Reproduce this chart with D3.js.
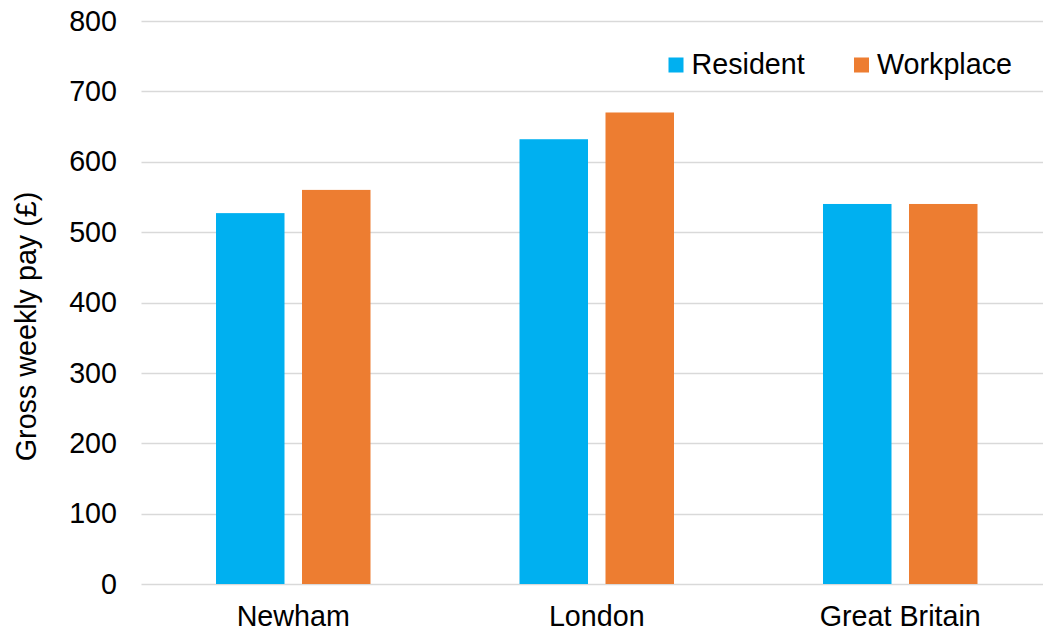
<!DOCTYPE html>
<html>
<head>
<meta charset="utf-8">
<script src="https://cdn.jsdelivr.net/npm/d3@7"></script>
<style>
  html, body { margin: 0; padding: 0; background: #fff; }
  svg { display: block; }
  text { font-family: "Liberation Sans", Arial, sans-serif; fill: #000; }
</style>
</head>
<body>
<svg id="chart" width="1043" height="632"></svg>
<script>
const categories = ["Newham", "London", "Great Britain"];
const seriesNames = ["Resident", "Workplace"];
const residentValues = [527, 632, 540];
const workplaceValues = [560, 670, 540];
const yTicks = [0, 100, 200, 300, 400, 500, 600, 700, 800];
const yTitle = "Gross weekly pay (£)";
const colors = ["#00B0F0", "#ED7D31"];

const svg = d3.select("#chart");
const fontSize = 28.7;

const plotLeft = 141.5, plotRight = 1052, plotTop = 21, plotBottom = 584;

const y = d3.scaleLinear().domain([0, 800]).range([plotBottom, plotTop]);
const x0 = d3.scaleBand().domain(categories).range([plotLeft, plotRight]).padding(0);
const groupWidth = 154.5;
const x1 = d3.scaleBand().domain(seriesNames)
  .range([-groupWidth / 2, groupWidth / 2])
  .paddingInner(0.2035).paddingOuter(0);

// gridlines
svg.append("g").selectAll("line").data(yTicks).join("line")
  .attr("x1", plotLeft).attr("x2", plotRight)
  .attr("y1", d => Math.round(y(d)) + 0.5).attr("y2", d => Math.round(y(d)) + 0.5)
  .attr("stroke", "#d9d9d9").attr("stroke-width", 1.5);

// y axis labels
const yAxis = d3.axisLeft(y).tickValues(yTicks).tickSize(0).tickPadding(0);
const yg = svg.append("g").attr("transform", `translate(117,0)`).call(yAxis);
yg.select(".domain").remove();
yg.selectAll("text").attr("font-size", fontSize).attr("font-family", "Liberation Sans, Arial, sans-serif").attr("fill", "#000");

// bars
const data = categories.map((c, i) => ({ cat: c, values: [residentValues[i], workplaceValues[i]] }));
const groups = svg.append("g").selectAll("g").data(data).join("g")
  .attr("transform", d => `translate(${x0(d.cat) + x0.bandwidth() / 2},0)`);
groups.selectAll("rect").data(d => d.values.map((v, j) => ({ s: seriesNames[j], v, j })))
  .join("rect")
  .attr("x", d => x1(d.s))
  .attr("width", x1.bandwidth())
  .attr("y", d => y(d.v))
  .attr("height", d => y(0) - y(d.v))
  .attr("fill", d => colors[d.j]);

// x axis labels
const xAxis = d3.axisBottom(x0).tickSize(0).tickPadding(0);
const xg = svg.append("g").attr("transform", `translate(0,${plotBottom})`).call(xAxis);
xg.select(".domain").remove();
xg.selectAll("text").attr("font-size", fontSize).attr("font-family", "Liberation Sans, Arial, sans-serif")
  .attr("fill", "#000").attr("dy", null).attr("y", 41.5);

// y title
svg.append("text")
  .attr("transform", "translate(35.5,326.5) rotate(-90)")
  .attr("text-anchor", "middle")
  .attr("font-size", fontSize)
  .text(yTitle);

// legend
const legendX = [668.5, 854];
const lg = svg.append("g").selectAll("g").data(seriesNames).join("g")
  .attr("transform", (d, i) => `translate(${legendX[i]},0)`);
lg.append("rect").attr("x", 0).attr("y", 57.5).attr("width", 15).attr("height", 15)
  .attr("fill", (d, i) => colors[i]);
lg.append("text").attr("x", 23).attr("y", 74).attr("font-size", fontSize).text(d => d);
</script>
</body>
</html>
